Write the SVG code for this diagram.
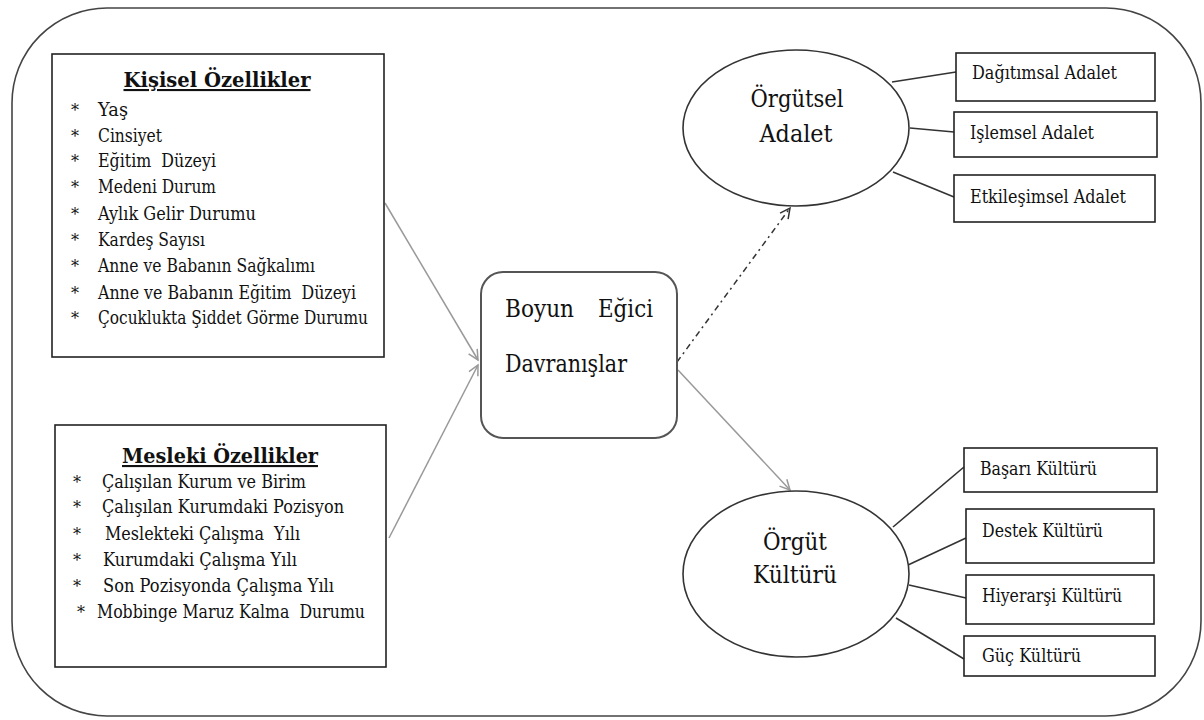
<svg xmlns="http://www.w3.org/2000/svg" width="1204" height="720" viewBox="0 0 1204 720">
<style>
text{font-family:'DejaVu Serif','Liberation Serif',serif;fill:#111;}
.box{fill:#fff;stroke:#222;stroke-width:1.6;}
.ttl{font-size:21px;font-weight:bold;text-decoration:underline;}
.it{font-size:19px;white-space:pre;}
.ast{font-size:16px;}
.big{font-size:24px;white-space:pre;}
.sm{font-size:18px;}
.ell{fill:#fff;stroke:#333;stroke-width:1.6;}
.arr{fill:none;stroke:#999;stroke-width:1.5;marker-end:url(#ah);}
.dd{fill:none;stroke:#333;stroke-width:1.5;stroke-dasharray:6 4 2 4;marker-end:url(#ahd);}
.ln{stroke:#333;stroke-width:1.6;}
</style>
<defs>
<marker id="ah" markerUnits="userSpaceOnUse" markerWidth="14" markerHeight="14" refX="11" refY="6" orient="auto">
<path d="M1,1 L11,6 L1,11" fill="none" stroke="#999" stroke-width="1.5"/>
</marker>
<marker id="ahd" markerUnits="userSpaceOnUse" markerWidth="14" markerHeight="14" refX="11" refY="6" orient="auto">
<path d="M1,1 L11,6 L1,11" fill="none" stroke="#333" stroke-width="1.5"/>
</marker>
</defs>
<rect width="1204" height="720" fill="#fff"/>
<rect id="frame" x="12" y="8" width="1189" height="708" rx="95" ry="95" fill="none" stroke="#444" stroke-width="1.6"/>

<g id="connectors">
<line class="arr" x1="385" y1="203" x2="478" y2="360"/>
<line class="arr" x1="389" y1="538" x2="478" y2="365"/>
<line class="dd" x1="677" y1="362" x2="790" y2="208"/>
<line class="arr" x1="678" y1="370" x2="790" y2="490"/>
<line class="ln" x1="892" y1="82" x2="956" y2="72"/>
<line class="ln" x1="910" y1="128" x2="954" y2="132"/>
<line class="ln" x1="893" y1="172" x2="954" y2="197"/>
<line class="ln" x1="893" y1="527" x2="964" y2="467"/>
<line class="ln" x1="908" y1="565" x2="966" y2="538"/>
<line class="ln" x1="909" y1="585" x2="966" y2="598"/>
<line class="ln" x1="896" y1="618" x2="964" y2="659"/>
</g>

<g id="kisisel">
<rect class="box" x="52" y="54" width="332" height="303"/>
<text class="ttl" x="217" y="87" text-anchor="middle" textLength="187" lengthAdjust="spacingAndGlyphs">Kişisel Özellikler</text>
<text class="ast" x="71" y="116">*</text><text class="it" x="98" y="116" textLength="30" lengthAdjust="spacingAndGlyphs">Yaş</text>
<text class="ast" x="71" y="142">*</text><text class="it" x="98" y="142" textLength="64" lengthAdjust="spacingAndGlyphs">Cinsiyet</text>
<text class="ast" x="71" y="167">*</text><text class="it" x="98" y="167" textLength="118" lengthAdjust="spacingAndGlyphs">Eğitim  Düzeyi</text>
<text class="ast" x="71" y="193">*</text><text class="it" x="98" y="193" textLength="118" lengthAdjust="spacingAndGlyphs">Medeni Durum</text>
<text class="ast" x="71" y="220">*</text><text class="it" x="98" y="220" textLength="158" lengthAdjust="spacingAndGlyphs">Aylık Gelir Durumu</text>
<text class="ast" x="71" y="246">*</text><text class="it" x="98" y="246" textLength="107" lengthAdjust="spacingAndGlyphs">Kardeş Sayısı</text>
<text class="ast" x="71" y="272">*</text><text class="it" x="98" y="272" textLength="217" lengthAdjust="spacingAndGlyphs">Anne ve Babanın Sağkalımı</text>
<text class="ast" x="71" y="299">*</text><text class="it" x="98" y="299" textLength="258" lengthAdjust="spacingAndGlyphs">Anne ve Babanın Eğitim  Düzeyi</text>
<text class="ast" x="71" y="324">*</text><text class="it" x="98" y="324" textLength="270" lengthAdjust="spacingAndGlyphs">Çocuklukta Şiddet Görme Durumu</text>
</g>

<g id="mesleki">
<rect class="box" x="55" y="425" width="331" height="242"/>
<text class="ttl" x="220" y="463" text-anchor="middle" textLength="196" lengthAdjust="spacingAndGlyphs">Mesleki Özellikler</text>
<text class="ast" x="73" y="488">*</text><text class="it" x="102" y="488" textLength="204" lengthAdjust="spacingAndGlyphs">Çalışılan Kurum ve Birim</text>
<text class="ast" x="73" y="513">*</text><text class="it" x="102" y="513" textLength="242" lengthAdjust="spacingAndGlyphs">Çalışılan Kurumdaki Pozisyon</text>
<text class="ast" x="73" y="540">*</text><text class="it" x="105" y="540" textLength="195" lengthAdjust="spacingAndGlyphs">Meslekteki Çalışma  Yılı</text>
<text class="ast" x="73" y="566">*</text><text class="it" x="103" y="566" textLength="194" lengthAdjust="spacingAndGlyphs">Kurumdaki Çalışma Yılı</text>
<text class="ast" x="73" y="592">*</text><text class="it" x="103" y="592" textLength="231" lengthAdjust="spacingAndGlyphs">Son Pozisyonda Çalışma Yılı</text>
<text class="ast" x="77" y="618">*</text><text class="it" x="97" y="618" textLength="268" lengthAdjust="spacingAndGlyphs">Mobbinge Maruz Kalma  Durumu</text>
</g>

<g id="boyun">
<rect x="481" y="272" width="196" height="166" rx="22" ry="22" fill="#fff" stroke="#555" stroke-width="2"/>
<text class="big" x="505" y="317" textLength="69" lengthAdjust="spacingAndGlyphs">Boyun</text>
<text class="big" x="598" y="317" textLength="55" lengthAdjust="spacingAndGlyphs">Eğici</text>
<text class="big" x="505" y="372" textLength="122" lengthAdjust="spacingAndGlyphs">Davranışlar</text>
</g>

<g id="orgutsel-adalet">
<ellipse class="ell" cx="796" cy="128" rx="113" ry="78"/>
<text class="big" x="797" y="107" text-anchor="middle" textLength="93" lengthAdjust="spacingAndGlyphs">Örgütsel</text>
<text class="big" x="796" y="142" text-anchor="middle" textLength="73" lengthAdjust="spacingAndGlyphs">Adalet</text>
</g>

<g id="orgut-kulturu">
<ellipse class="ell" cx="796" cy="574" rx="113" ry="83"/>
<text class="big" x="795" y="550" text-anchor="middle" textLength="64" lengthAdjust="spacingAndGlyphs">Örgüt</text>
<text class="big" x="795" y="583" text-anchor="middle" textLength="84" lengthAdjust="spacingAndGlyphs">Kültürü</text>
</g>

<g id="dagitimsal">
<rect class="box" x="956" y="53" width="199" height="48"/>
<text class="sm" x="972" y="79" textLength="145" lengthAdjust="spacingAndGlyphs">Dağıtımsal Adalet</text>
</g>
<g id="islemsel">
<rect class="box" x="954" y="112" width="203" height="45"/>
<text class="sm" x="970" y="139" textLength="124" lengthAdjust="spacingAndGlyphs">Işlemsel Adalet</text>
</g>
<g id="etkilesimsel">
<rect class="box" x="954" y="175" width="201" height="47"/>
<text class="sm" x="970" y="203" textLength="156" lengthAdjust="spacingAndGlyphs">Etkileşimsel Adalet</text>
</g>

<g id="basari">
<rect class="box" x="964" y="448" width="193" height="44"/>
<text class="sm" x="980" y="475" textLength="117" lengthAdjust="spacingAndGlyphs">Başarı Kültürü</text>
</g>
<g id="destek">
<rect class="box" x="966" y="509" width="188" height="54"/>
<text class="sm" x="982" y="537" textLength="121" lengthAdjust="spacingAndGlyphs">Destek Kültürü</text>
</g>
<g id="hiyerarsi">
<rect class="box" x="966" y="575" width="188" height="49"/>
<text class="sm" x="982" y="602" textLength="140" lengthAdjust="spacingAndGlyphs">Hiyerarşi Kültürü</text>
</g>
<g id="guc">
<rect class="box" x="964" y="636" width="191" height="40"/>
<text class="sm" x="982" y="662" textLength="99" lengthAdjust="spacingAndGlyphs">Güç Kültürü</text>
</g>
</svg>
